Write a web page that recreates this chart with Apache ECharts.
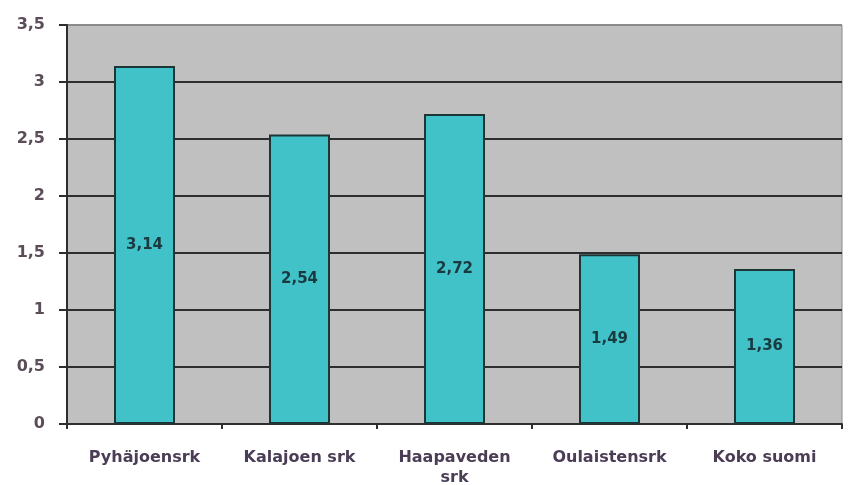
<!DOCTYPE html>
<html>
<head>
<meta charset="utf-8">
<script src="https://cdn.jsdelivr.net/npm/echarts@6/dist/echarts.min.js"></script>
<style>html,body{margin:0;padding:0;background:#fff}#c{width:853px;height:485px}</style>
</head>
<body>
<div id="c"></div>
<script>
const categories = ['Pyhäjoensrk', 'Kalajoen srk', 'Haapaveden\nsrk', 'Oulaistensrk', 'Koko suomi'];
const values = [3.14, 2.54, 2.72, 1.49, 1.36];
const yTicks = { min: 0, max: 3.5, interval: 0.5 };

const chart = echarts.init(document.getElementById('c'));
const fmt = v => String(v).replace('.', ',');
const FONT = 'DejaVu Sans, Verdana, sans-serif';
chart.setOption({
  animation: false,
  grid: {
    left: 67, right: 11, top: 25, bottom: 61,
    outerBoundsMode: 'none', containLabel: false,
    show: true, backgroundColor: '#c0c0c0', borderColor: '#8a8a8a', borderWidth: 1
  },
  xAxis: {
    type: 'category',
    data: categories,
    axisLine: { lineStyle: { color: '#2e2e2e', width: 2 } },
    axisTick: { show: true, length: 5, lineStyle: { color: '#2e2e2e', width: 2 } },
    axisLabel: { margin: 24, color: '#4a3d55', fontSize: 16, fontWeight: 'bold', fontFamily: FONT, lineHeight: 20 }
  },
  yAxis: {
    type: 'value',
    min: yTicks.min, max: yTicks.max, interval: yTicks.interval,
    axisLine: { show: true, lineStyle: { color: '#2e2e2e', width: 2 } },
    axisTick: { show: true, length: 8, lineStyle: { color: '#2e2e2e', width: 2 } },
    axisLabel: { margin: 22, color: '#5a4d58', fontSize: 16, fontWeight: 'bold', fontFamily: FONT, formatter: fmt },
    splitLine: { show: true, lineStyle: { color: ['#2e2e2e','#2e2e2e','#2e2e2e','#2e2e2e','#2e2e2e','#2e2e2e','#2e2e2e','#8a8a8a'], width: 2 } }
  },
  series: [{
    type: 'bar',
    data: values,
    barWidth: 61,
    itemStyle: { color: '#40c2c8', borderColor: '#1e3535', borderWidth: 2 },
    label: {
      show: true, position: 'inside', color: '#1a3a40', fontSize: 15, fontWeight: 'bold',
      fontFamily: FONT,
      formatter: p => fmt(p.value)
    }
  }]
});
</script>
</body>
</html>
